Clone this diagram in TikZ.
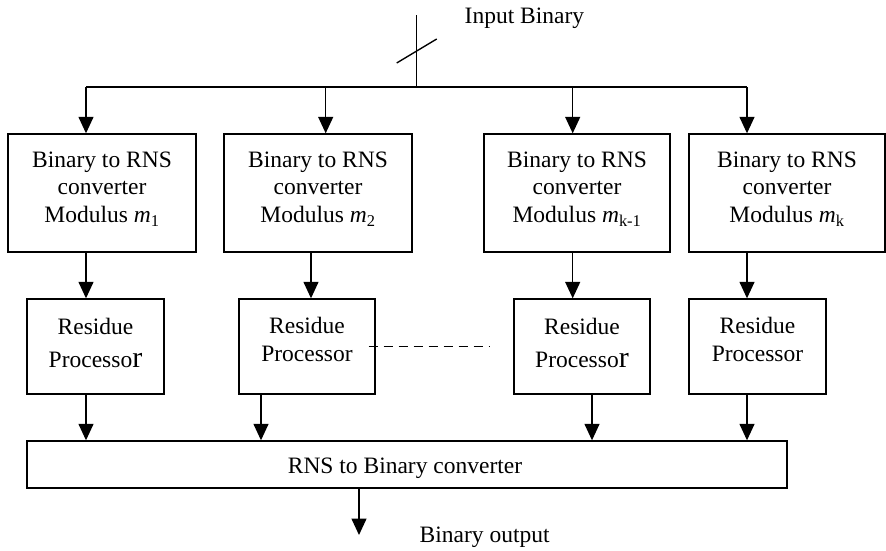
\documentclass[tikz,border=0pt]{standalone}
\usepackage{fontspec}
\setmainfont{Liberation Serif}
\usetikzlibrary{arrows.meta,calc}
\newcommand\rbig{{\fontsize{30}{30}\selectfont r}}
\begin{document}
\begin{tikzpicture}[x=1pt,y=-1pt,line width=1.4pt,
  arr/.style={-{Triangle[length=16.5pt,width=15pt]}},
  box/.style={draw,inner sep=0pt,line width=1.4pt},
  txt/.style={inner sep=0pt,align=center,font=\fontsize{23.5}{27.5}\selectfont},
  lbl/.style={inner sep=0pt,font=\fontsize{23.5}{27.5}\selectfont}]
\useasboundingbox (0,0) rectangle (886,550);
% converter boxes
\node[box,minimum width=188pt,minimum height=118pt] (b1) at (102,193) {};
\node[box,minimum width=188pt,minimum height=118pt] (b2) at (318,193) {};
\node[box,minimum width=186pt,minimum height=118pt] (b3) at (577,193) {};
\node[box,minimum width=196pt,minimum height=118pt] (b4) at (787,193) {};
\node[txt,yshift=4pt] (b1t) at (b1) {Binary to RNS\\converter\\Modulus \textit{m}\textsubscript{1}};
\node[txt,yshift=4pt] (b2t) at (b2) {Binary to RNS\\converter\\Modulus \textit{m}\textsubscript{2}};
\node[txt,yshift=4pt] (b3t) at (b3) {Binary to RNS\\converter\\Modulus \textit{m}\textsubscript{k-1}};
\node[txt,yshift=4pt] (b4t) at (b4) {Binary to RNS\\converter\\Modulus \textit{m}\textsubscript{k}};
% residue processors
\node[box,minimum width=137pt,minimum height=95pt] (r1) at (95.5,346.5) {};
\node[box,minimum width=136pt,minimum height=95pt] (r2) at (307,346.5) {};
\node[box,minimum width=136pt,minimum height=95pt] (r3) at (582,346.5) {};
\node[box,minimum width=137pt,minimum height=95pt] (r4) at (757.5,346.5) {};
\node[txt,yshift=4pt] (r1t) at (r1) {Residue\\[5.5pt]Processo\rbig};
\node[txt,yshift=7pt] (r2t) at (r2) {Residue\\Processor};
\node[txt,yshift=4pt] (r3t) at (r3) {Residue\\[5.5pt]Processo\rbig};
\node[txt,yshift=7pt] (r4t) at (r4) {Residue\\Processor};
% output converter
\node[box,minimum width=760pt,minimum height=47pt] (oc) at (407,464.5) {};
\node[lbl,anchor=base] (oct) at (405,473) {RNS to Binary converter};
% labels
\node[lbl,anchor=base west] (inl) at (464,23) {Input Binary};
\node[lbl,anchor=base west] (outl) at (419,542) {Binary output};
% input bus
\coordinate (in) at (416.7,15);
\coordinate (bus) at (416.7,87);
\draw (in) -- (bus);
\draw ($(bus)+(-20,-24)$) -- ($(bus)+(20,-48)$);
\coordinate (t1) at (86,87);
\coordinate (t2) at (325.7,87);
\coordinate (t3) at (572.7,87);
\coordinate (t4) at (747,87);
\draw (t1) -- (t4);
\draw[arr] (t1) -- (t1 |- b1.north);
\draw[arr] (t2) -- (t2 |- b2.north);
\draw[arr] (t3) -- (t3 |- b3.north);
\draw[arr] (t4) -- (t4 |- b4.north);
% converter -> residue
\coordinate (x2) at (311,0);
\draw[arr] (b1.south -| t1) -- (r1.north -| t1);
\draw[arr] (b2.south -| x2) -- (r2.north -| x2);
\draw[arr] (b3.south -| t3) -- (r3.north -| t3);
\draw[arr] (b4.south -| t4) -- (r4.north -| t4);
% residue -> output converter
\coordinate (y1) at (86,0);
\coordinate (y2) at (261,0);
\coordinate (y3) at (592,0);
\coordinate (y4) at (747,0);
\draw[arr] (r1.south -| y1) -- (oc.north -| y1);
\draw[arr] (r2.south -| y2) -- (oc.north -| y2);
\draw[arr] (r3.south -| y3) -- (oc.north -| y3);
\draw[arr] (r4.south -| y4) -- (oc.north -| y4);
% output
\coordinate (out) at (359,535);
\draw[arr] (oc.south -| out) -- (out);
% dashed link
\draw[dash pattern=on 9pt off 6pt] ($(r2.east)+(-7,0)$) -- ($(r3.west)+(-24,0)$);
\end{tikzpicture}
\end{document}
